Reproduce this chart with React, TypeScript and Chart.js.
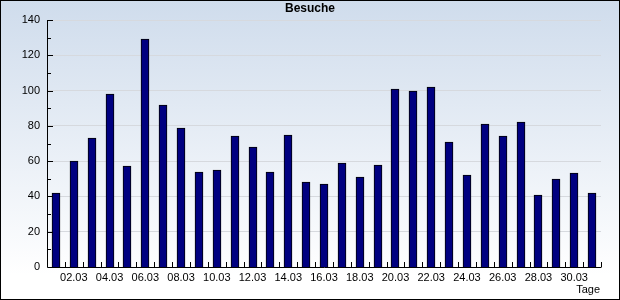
import React, { useEffect, useRef } from "react";
import { Chart, registerables } from "chart.js";

Chart.register(...registerables);

const days = [
  "01.03", "02.03", "03.03", "04.03", "05.03", "06.03", "07.03", "08.03", "09.03", "10.03",
  "11.03", "12.03", "13.03", "14.03", "15.03", "16.03", "17.03", "18.03", "19.03", "20.03",
  "21.03", "22.03", "23.03", "24.03", "25.03", "26.03", "27.03", "28.03", "29.03", "30.03", "31.03",
];
const visits = [
  42, 60, 73, 98, 57, 129, 92, 79, 54, 55,
  74, 68, 54, 75, 48, 47, 59, 51, 58, 101,
  100, 102, 71, 52, 81, 74, 82, 41, 50, 53, 42,
];
const titleText = "Besuche";
const xAxisTitle = "Tage";
const yMin = 0;
const yMax = 140;
const yStep = 20;
const yMinorStep = 10;

const FONT = "'Liberation Sans', Arial, sans-serif";

const decor = {
  id: "decor",
  beforeDraw(chart: any) {
    const { ctx, width, height } = chart;
    ctx.save();
    const g = ctx.createLinearGradient(0, 0, 0, 275);
    g.addColorStop(0, "#cfdcec");
    g.addColorStop(1, "#ffffff");
    ctx.fillStyle = g;
    ctx.fillRect(0, 0, width, height);
    ctx.restore();
  },
  beforeDatasetsDraw(chart: any) {
    const meta = chart.getDatasetMeta(0);
    meta.data.forEach((el: any) => {
      const half = el.width / 2;
      el.x = Math.round(el.x - half) + half;
      el.y = Math.round(el.y);
      el.base = Math.round(el.base);
    });
  },
  afterDraw(chart: any) {
    const { ctx, chartArea, width, height } = chart;
    const xs = chart.scales.x;
    const ys = chart.scales.y;
    const { left, right, top, bottom } = chartArea;
    ctx.save();
    ctx.strokeStyle = "#000";
    ctx.lineWidth = 1;
    ctx.beginPath();
    // axes
    ctx.moveTo(Math.round(left) + 0.5, top);
    ctx.lineTo(Math.round(left) + 0.5, Math.round(bottom) + 0.5);
    ctx.lineTo(Math.round(right) + 0.5, Math.round(bottom) + 0.5);
    // y ticks
    for (let v = yMin + yMinorStep; v <= yMax; v += yMinorStep) {
      const y = Math.round(ys.getPixelForValue(v)) + 0.5;
      const len = v % yStep === 0 ? 5 : 3;
      ctx.moveTo(Math.round(left), y);
      ctx.lineTo(Math.round(left) + 1 + len, y);
    }
    // x ticks at category boundaries
    const cw = xs.getPixelForValue(1) - xs.getPixelForValue(0);
    for (let i = 0; i < days.length; i++) {
      const x = Math.round(xs.getPixelForValue(i) + cw / 2) + 0.5;
      ctx.moveTo(x, Math.round(bottom));
      ctx.lineTo(x, Math.round(bottom) - 5);
    }
    ctx.stroke();

    ctx.fillStyle = "#000";
    ctx.font = "bold 12px " + FONT;
    ctx.textAlign = "center";
    ctx.textBaseline = "top";
    ctx.fillText(titleText, 310, 3);
    ctx.font = "11px " + FONT;
    ctx.textAlign = "right";
    ctx.fillText(xAxisTitle, 600, 284);

    // outer border
    ctx.strokeRect(0.5, 0.5, width - 1, height - 1);
    ctx.restore();
  },
};

export default function App() {
  const ref = useRef<HTMLCanvasElement | null>(null);
  useEffect(() => {
    document.body.style.margin = "0";
    const canvas = ref.current!;
    const chart = new Chart(canvas, {
      type: "bar",
      data: {
        labels: days,
        datasets: [
          {
            label: titleText,
            data: visits,
            backgroundColor: "#000080",
            borderColor: "#000000",
            borderWidth: 1,
            barThickness: 8,
            categoryPercentage: 1,
          },
        ],
      },
      options: {
        animation: false,
        responsive: false,
        maintainAspectRatio: false,
        devicePixelRatio: 1,
        layout: { padding: { top: 20, right: 19, left: 0, bottom: 0 } },
        plugins: { legend: { display: false }, title: { display: false }, tooltip: { enabled: false } },
        scales: {
          x: {
            offset: true,
            grid: { display: false, drawTicks: false },
            border: { display: false },
            ticks: {
              autoSkip: false,
              maxRotation: 0,
              minRotation: 0,
              padding: 4,
              color: "#000",
              font: { family: FONT, size: 11 },
              callback: (_v: any, i: number) => (i % 2 === 1 ? days[i] : ""),
            },
            afterFit: (s: any) => {
              s.height = 33;
            },
          },
          y: {
            min: yMin,
            max: yMax,
            grid: { color: "#d6d9de", drawTicks: false },
            border: { display: false },
            ticks: {
              stepSize: yStep,
              padding: 7,
              color: "#000",
              font: { family: FONT, size: 11 },
            },
            afterFit: (s: any) => {
              s.width = 47;
            },
          },
        },
      },
      plugins: [decor],
    });
    return () => chart.destroy();
  }, []);
  return (
    <div style={{ position: "absolute", left: 0, top: 0, width: 620, height: 300 }}>
      <canvas ref={ref} width={620} height={300} style={{ display: "block", width: 620, height: 300 }} />
    </div>
  );
}
